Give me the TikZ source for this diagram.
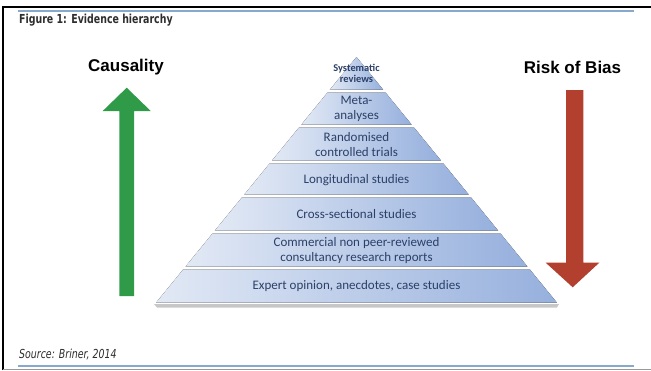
\documentclass[tikz,border=0pt]{standalone}
\usepackage{fontspec}
\setmainfont{Carlito}
\newfontfamily\arialfont{Liberation Sans}
\newfontfamily\captionfont[FakeStretch=0.76]{DejaVu Sans}
\usetikzlibrary{calc}

\definecolor{bandlight}{HTML}{E2E9F5}
\definecolor{banddark}{HTML}{96B0DD}
\definecolor{bandtext}{HTML}{2B4068}
\definecolor{upgreen}{HTML}{2F9B49}
\definecolor{downred}{HTML}{B3402F}
\definecolor{ruleblue}{HTML}{86A9CC}
\definecolor{captiongray}{HTML}{2E2E2E}

\tikzset{
  band/.style={left color=bandlight, right color=banddark, draw=none},
  bandlabel/.style={text=bandtext, align=center, inner sep=0pt,
    font=\fontsize{13}{15}\selectfont},
  headline/.style={inner sep=0pt, font=\arialfont\bfseries\fontsize{17}{20}\selectfont},
  caption/.style={anchor=west, inner sep=0pt, text=captiongray,
    font=\captionfont\fontsize{12.4}{14}\selectfont},
}

\begin{document}
\begin{tikzpicture}[x=1pt,y=-1pt]
\useasboundingbox (0,0) rectangle (651,370);

% frame and rules
\draw[line width=2.2pt] (3,370) -- (3,7) -- (651,7);
\draw[gray!80, line width=1.5pt] (3,369.3) -- (651,369.3);
\draw[ruleblue, line width=1.6pt] (18,11) -- (634,11);
\draw[ruleblue, line width=1.6pt] (18,366) -- (634,366);

\node[caption, font=\captionfont\bfseries\fontsize{12.4}{14}\selectfont] (title) at (19,20.5) {Figure 1: Evidence hierarchy};
\node[caption] (source) at (19,355) {\itshape Source: Briner, 2014};

% pyramid
\fill[black!22] (154,304) -- (559,304) -- (557,307.5) -- (157,307.5) -- cycle;
\foreach \t/\b in {55.5/91, 91/126, 126/162, 162/196, 196/232, 232/268, 268/304}{
  \fill[band] ({356.5-(\t+1.5-57)*0.8158},{\t+1.5}) -- ({356.5+(\t+1.5-57)*0.8158},{\t+1.5})
    -- ({356.5+(\b-1.5-57)*0.8158},{\b-1.5}) -- ({356.5-(\b-1.5-57)*0.8158},{\b-1.5}) -- cycle;
}

\node[bandlabel, font=\bfseries\fontsize{10.4}{10.5}\selectfont] (sysrev) at (356.5,73.5) {Systematic\\reviews};
\node[bandlabel] (meta) at (356.5,109) {Meta-\\analyses};
\node[bandlabel] (rct) at (356.5,144.5) {Randomised\\controlled trials};
\node[bandlabel] (longit) at (356.5,180.5) {Longitudinal studies};
\node[bandlabel] (cross) at (356.5,214) {Cross-sectional studies};
\node[bandlabel] (commercial) at (356.5,250.5) {Commercial non peer-reviewed\\consultancy research reports};
\node[bandlabel] (expert) at (356.5,286.5) {Expert opinion, anecdotes, case studies};

% side arrows
\node[headline] (causality) at (126,67) {Causality};
\node[headline] (bias) at (572.5,67) {Risk of Bias};
\fill[upgreen] (119.3,296) -- (119.3,111) -- (102.7,111) -- (126.7,87.7)
  -- (150.7,111) -- (134,111) -- (134,296) -- cycle;
\fill[downred] (566,90) -- (583.3,90) -- (583.3,262.7) -- (599.3,262.7)
  -- (572.7,287.3) -- (545.7,262.7) -- (566,262.7) -- cycle;
\end{tikzpicture}
\end{document}
